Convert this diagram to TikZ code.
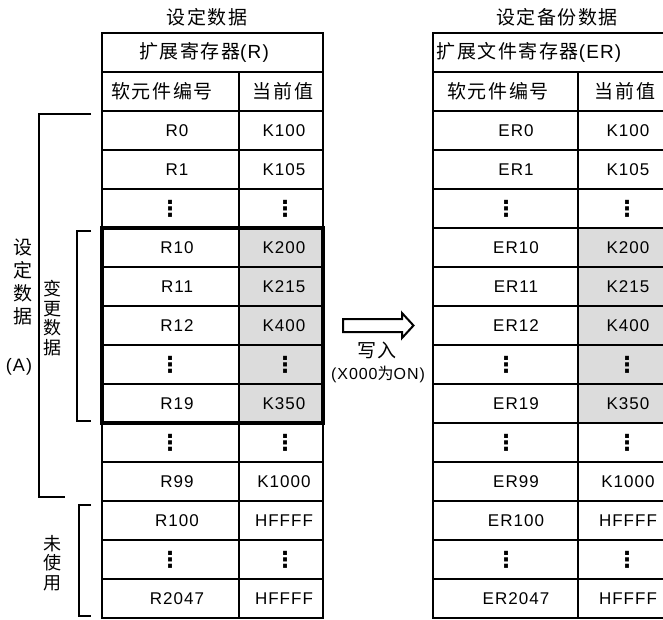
\documentclass[tikz,border=0pt]{standalone}
\usepackage{fontspec}
\setmainfont{Liberation Sans}[LetterSpace=6]
\newfontfamily\cjkf{Noto Sans CJK SC}[LetterSpace=8]
\newfontfamily\dotf{DejaVu Sans}
\definecolor{cellgray}{RGB}{220,220,220}
\newcommand\mydata{\rmfamily\fontsize{17}{19}\selectfont}
\newcommand\myhead{\cjkf\fontsize{19}{22}\selectfont}
\newcommand\mydots{\dotf\bfseries\fontsize{22}{24}\selectfont}
\newcommand\myvertA{\cjkf\fontsize{19}{23}\selectfont}
\newcommand\myvertB{\cjkf\fontsize{18}{19.5}\selectfont}
\newcommand\mylat{\rmfamily}
\begin{document}
\begin{tikzpicture}[x=1pt,y=-1pt,
  grid/.style={line width=2pt},
  thickbox/.style={line width=4.5pt},
  brk/.style={line width=2pt},
  lbl/.style={inner sep=0pt,font=\mydata},
  hdr/.style={inner sep=0pt,font=\myhead},
  vdot/.style={inner sep=0pt,font=\mydots},
  vtxtA/.style={inner sep=0pt,font=\myvertA,align=center},
  vtxtB/.style={inner sep=0pt,font=\myvertB,align=center},
]
\useasboundingbox (0,0) rectangle (663,619);
% gray cells
\fill[cellgray] (239,228) rectangle (323,423);
\fill[cellgray] (578,228) rectangle (666,423);
% left table grid
\draw[grid] (102,33) rectangle (323,618);
\foreach \y in {72,111,...,579} \draw[grid] (102,\y) -- (323,\y);
\draw[grid] (239,72) -- (239,618);
\draw[thickbox] (102,228) rectangle (323,423);
% right table grid
\draw[grid] (666,33) -- (433,33) -- (433,618) -- (666,618);
\foreach \y in {72,111,...,579} \draw[grid] (433,\y) -- (666,\y);
\draw[grid] (578,72) -- (578,618);
% titles
\node[hdr] (ltitle) at (207,17) {设定数据};
\node[hdr] (rtitle) at (557,17) {设定备份数据};
\node[hdr] (lhead) at (204,52.5) {扩展寄存器\mylat(R)};
\node[hdr] (rhead) at (529,52.5) {扩展文件寄存器\mylat(ER)};
\node[hdr] (lcolA) at (162,91.5) {软元件编号};
\node[hdr] (lcolB) at (283,91.5) {当前值};
\node[hdr] (rcolA) at (498,91.5) {软元件编号};
\node[hdr] (rcolB) at (625,91.5) {当前值};
% data rows
\foreach \k/\a/\b/\c/\d in {2/R0/K100/ER0/K100, 3/R1/K105/ER1/K105,
  5/R10/K200/ER10/K200, 6/R11/K215/ER11/K215, 7/R12/K400/ER12/K400,
  9/R19/K350/ER19/K350, 11/R99/K1000/ER99/K1000, 12/R100/HFFFF/ER100/HFFFF,
  14/R2047/HFFFF/ER2047/HFFFF}{
  \pgfmathsetmacro\yy{52.5+39*\k}
  \node[lbl] (ln\k) at (177,\yy) {\a};
  \node[lbl] (lv\k) at (284,\yy) {\b};
  \node[lbl] (rn\k) at (516,\yy) {\c};
  \node[lbl] (rv\k) at (628,\yy) {\d};
}
\foreach \k in {4,8,10,13}{
  \pgfmathsetmacro\yy{52.5+39*\k}
  \node[vdot] (ln\k) at (170,\yy) {⋮};
  \node[vdot] (lv\k) at (285,\yy) {⋮};
  \node[vdot] (rn\k) at (506,\yy) {⋮};
  \node[vdot] (rv\k) at (627,\yy) {⋮};
}
% brackets
\coordinate (bA1) at (91,114);
\coordinate (bA2) at (65,497);
\draw[brk] (bA1) -- (39,114) -- (39,497) -- (bA2);
\coordinate (bB1) at (91,231);
\coordinate (bB2) at (91,421);
\draw[brk] (bB1) -- (77,231) -- (77,421) -- (bB2);
\coordinate (bC1) at (91,505);
\coordinate (bC2) at (91,616);
\draw[brk] (bC1) -- (79,505) -- (79,616) -- (bC2);
\node[vtxtA] (setdata) at (22.5,281.5) {设\\定\\数\\据};
\node[lbl,font=\rmfamily\fontsize{18}{20}\selectfont] (setA) at (19,366.5) {(A)};
\node[vtxtB] (chgdata) at (52,318) {变\\更\\数\\据};
\node[vtxtB] (unused) at (52,563) {未\\使\\用};
% arrow
\draw[line width=2pt,line join=miter] (343,319) -- (402,319) -- (402,313) -- (413.5,325.5)
  -- (402,338) -- (402,332) -- (343,332) -- cycle;
\node[hdr] (write) at (377,350) {写入};
\node[lbl,font=\rmfamily\fontsize{16}{18}\selectfont] (cond) at (378,374) {(X000{\cjkf 为}ON)};
\end{tikzpicture}
\end{document}
